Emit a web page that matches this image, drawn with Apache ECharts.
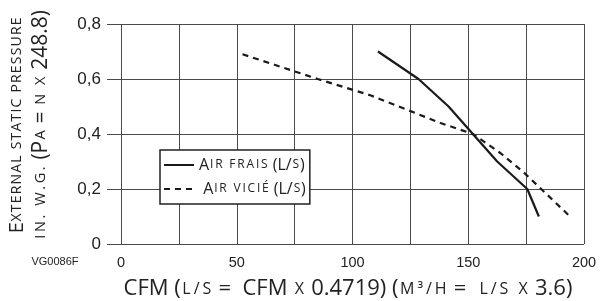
<!DOCTYPE html>
<html>
<head>
<meta charset="utf-8">
<script src="https://cdn.jsdelivr.net/npm/echarts@6/dist/echarts.min.js"></script>
<style>html,body{margin:0;padding:0;background:#fff}#c{width:600px;height:301px}</style>
</head>
<body>
<div id="c"></div>
<script>
var xTicks = [0, 50, 100, 150, 200];
var yTicks = [0, 0.2, 0.4, 0.6, 0.8];
var airFrais = [[111, 0.70], [128.5, 0.60], [141.5, 0.50], [152, 0.40], [162.5, 0.30], [175.5, 0.20], [180.5, 0.10]];
var airVicie = [[52.5, 0.69], [85, 0.60], [108, 0.54], [138, 0.44], [152, 0.40], [164, 0.33], [174, 0.26], [194, 0.10]];
var seriesNames = ['Air frais (L/s)', 'Air vicié (L/s)'];

// build rich text: [style, text]; style 's' = small caps spaced letter by letter
function rt(parts) {
  return parts.map(function (p) {
    if (p[0] === 's') {
      return p[1].split('').map(function (c) { return '{s|' + c + '}'; }).join('');
    }
    return '{' + p[0] + '|' + p[1] + '}';
  }).join('');
}

var chart = echarts.init(document.getElementById('c'));
var TF = 'Open Sans';
var LF = 'Liberation Sans';
var ink = '#222';
var gridCol = '#4a4a4a';

chart.setOption({
  animation: false,
  backgroundColor: '#fff',
  grid: [
    {left: 107, right: 16, top: 24, bottom: 57},
    {left: 121, right: 16, top: 24, bottom: 57}
  ],
  xAxis: [
    {gridIndex: 0, type: 'value', min: 0, max: 1, show: false},
    {gridIndex: 1, type: 'value', min: 0, max: 200, interval: 25,
      axisLine: {show: false}, axisTick: {show: false},
      splitLine: {show: true, lineStyle: {color: gridCol, width: 1}},
      axisLabel: {margin: 11, fontFamily: LF, fontSize: 14.5, color: ink,
        formatter: function (v) { return xTicks.indexOf(v) >= 0 ? String(v) : ''; }}
    }
  ],
  yAxis: [
    {gridIndex: 0, type: 'value', min: 0, max: 0.8, interval: 0.2,
      axisLine: {show: false}, axisTick: {show: false},
      splitLine: {show: true, lineStyle: {color: gridCol, width: 1}},
      axisLabel: {margin: 6, fontFamily: LF, fontSize: 17, color: ink,
        formatter: function (v) {
          var t = yTicks.filter(function (k) { return Math.abs(k - v) < 1e-6; });
          return t.length ? String(+v.toFixed(1)).replace('.', ',') : '';
        }}
    },
    {gridIndex: 1, type: 'value', min: 0, max: 0.8, interval: 0.2, show: false}
  ],
  legend: {
    orient: 'vertical', left: 160, top: 150,
    backgroundColor: '#fff', borderColor: '#222', borderWidth: 1.5,
    padding: [7, 4, 7, 3], itemGap: 8, itemWidth: 30, itemHeight: 14,
    itemStyle: {opacity: 0},
    data: seriesNames,
    formatter: function (n) {
      if (n === seriesNames[0]) return rt([['b', 'A'], ['s', 'IR FRAIS'], ['b', ' (L/'], ['s', 'S'], ['b', ')']]);
      return rt([['b', ' A'], ['s', 'IR VICIÉ'], ['b', ' (L/'], ['s', 'S'], ['b', ')']]);
    },
    textStyle: {
      color: ink,
      rich: {
        b: {fontFamily: TF, fontSize: 16, color: ink},
        s: {fontFamily: TF, fontSize: 12, color: ink, padding: [0, 0.9, 0, 0.9]}
      }
    }
  },
  graphic: [
    {type: 'text', x: 17, y: 125, rotation: Math.PI / 2,
      style: {text: rt([['B', 'E'], ['s', 'XTERNAL STATIC PRESSURE']]), align: 'center', verticalAlign: 'middle',
        rich: {B: {fontFamily: TF, fontSize: 20, fill: ink}, s: {fontFamily: TF, fontSize: 14, fill: ink, padding: [0, 0.6, 0, 0.6]}}}},
    {type: 'text', x: 41, y: 125, rotation: Math.PI / 2,
      style: {text: rt([['s', 'IN. W.G.'], ['B', ' (P'], ['s', 'A'], ['B', ' = '], ['s', 'N X'], ['B', ' 248.8)']]), align: 'center', verticalAlign: 'middle',
        rich: {B: {fontFamily: TF, fontSize: 21, fill: ink}, s: {fontFamily: TF, fontSize: 14.5, fill: ink, padding: [0, 1.3, 0, 1.3]}}}},
    {type: 'text', x: 348, y: 289,
      style: {text: rt([['B', 'CFM ('], ['s', 'L/S'], ['B', ' =  CFM '], ['s', 'X'], ['B', ' 0.4719) ('], ['s', 'M³/H'], ['B', ' =  '], ['s', 'L/S X'], ['B', ' 3.6)']]), align: 'center', verticalAlign: 'middle',
        rich: {B: {fontFamily: TF, fontSize: 22, fill: ink}, s: {fontFamily: TF, fontSize: 16, fill: ink, padding: [0, 1.5, 0, 1.5]}}}},
    {type: 'text', x: 55, y: 262,
      style: {text: 'VG0086F', align: 'center', verticalAlign: 'middle', fontFamily: LF, fontSize: 11, fill: ink}}
  ],
  series: [
    {name: seriesNames[0], type: 'line', xAxisIndex: 1, yAxisIndex: 1, data: airFrais,
      symbol: 'none', lineStyle: {color: '#1a1a1a', width: 2.2}, itemStyle: {color: '#1a1a1a'}},
    {name: seriesNames[1], type: 'line', xAxisIndex: 1, yAxisIndex: 1, data: airVicie,
      symbol: 'none', lineStyle: {color: '#1a1a1a', width: 2.2, type: [6, 5]}, itemStyle: {color: '#1a1a1a'}}
  ]
});
</script>
</body>
</html>
